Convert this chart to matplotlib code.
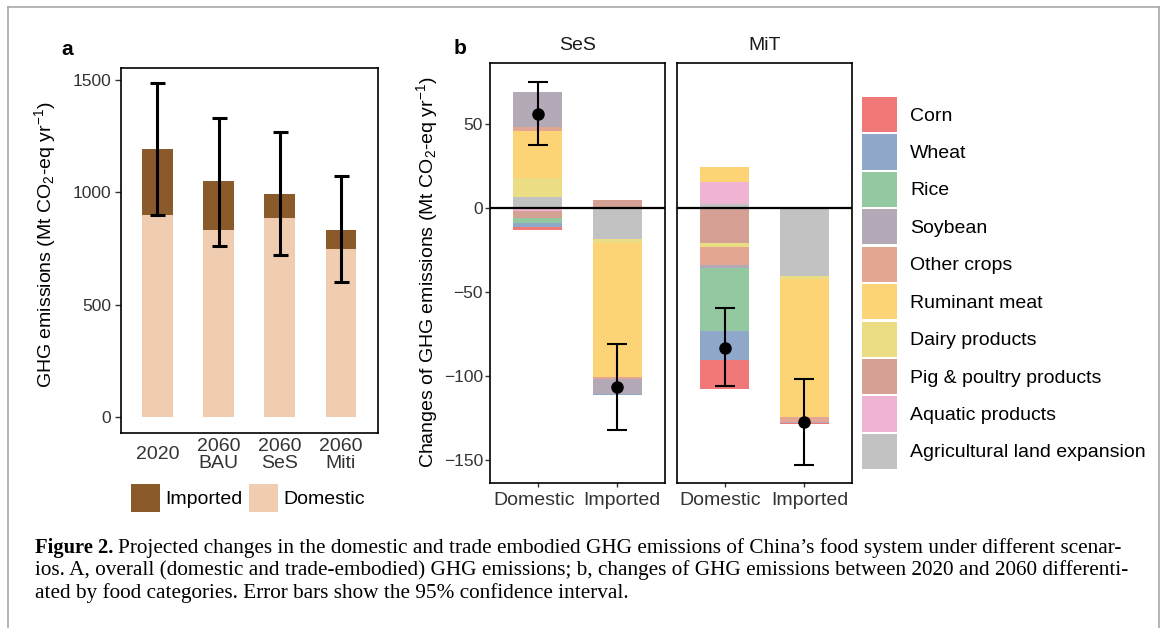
import numpy as np
import matplotlib
matplotlib.use("Agg")
import matplotlib.pyplot as plt
from matplotlib.patches import Patch
from matplotlib.lines import Line2D
from matplotlib.transforms import ScaledTranslation

plt.rcParams['font.family'] = ['Liberation Sans', 'DejaVu Sans']
plt.rcParams['mathtext.fontset'] = 'custom'
plt.rcParams['mathtext.rm'] = 'Liberation Sans'
plt.rcParams['mathtext.it'] = 'Liberation Sans:italic'
plt.rcParams['mathtext.bf'] = 'Liberation Sans:bold'

# panel a: overall emissions
scenarios = ['2020', '2060\nBAU', '2060\nSeS', '2060\nMiti']
domestic = np.array([901, 834, 888, 749])
imported = np.array([291, 215, 107, 85])
err_low = np.array([900, 760, 719, 600])
err_high = np.array([1486, 1333, 1271, 1071])

# panel b: changes by food category
categories = ['Corn', 'Wheat', 'Rice', 'Soybean', 'Other crops', 'Ruminant meat',
              'Dairy products', 'Pig & poultry products', 'Aquatic products',
              'Agricultural land expansion']
cat_colors = ['#F07878', '#8FA8C9', '#93C8A0', '#B4A9B7', '#E3A692', '#FDD475',
              '#EBDD83', '#D4A194', '#F0B4D3', '#C2C2C2']

ses_domestic = [-1.6, -2.4, -3.1, 20.8, 2.4, 27.8, 11.5, -4.2, -1.6, 6.5]
ses_imported = [0, -0.6, 0, -8.9, -1.2, -79.6, -2.3, 4.8, 0, -18.7]
mit_domestic = [-17.4, -17.1, -37.7, -1.4, -11.1, 8.9, -2.0, -21.0, 13.1, 2.4]
mit_imported = [-0.4, 0.8, 0, -0.5, -3.0, -82.1, -1.8, 0, 0, -40.5]

trade = ['Domestic', 'Imported']
ses_mean = np.array([55.8, -106.3])
ses_low = np.array([37.5, -132.3])
ses_high = np.array([75.0, -80.8])
mit_mean = np.array([-83.5, -127.2])
mit_low = np.array([-105.9, -152.8])
mit_high = np.array([-59.3, -101.8])

col_imp = '#8B5A2B'
col_dom = '#F0CDB1'
W, H = 1165, 628


def fig_box(x0, y0, x1, y1):
    return [x0 / W, 1 - y1 / H, (x1 - x0) / W, (y1 - y0) / H]


def stack_bars(ax, xpos, values, width=0.61):
    pos_base, neg_base = 0.0, 0.0
    for i in reversed(range(len(categories))):
        v = values[i]
        if v > 0:
            ax.bar(xpos, v, width, bottom=pos_base, color=cat_colors[i], lw=0)
            pos_base += v
        elif v < 0:
            ax.bar(xpos, v, width, bottom=neg_base, color=cat_colors[i], lw=0)
            neg_base += v


def style_frame(ax):
    for s in ax.spines.values():
        s.set_linewidth(1.2)
        s.set_color('black')


fig = plt.figure(figsize=(11.65, 6.28), dpi=100)

# ---- panel a ----
ax_a = fig.add_axes(fig_box(120.7, 67.7, 377.7, 432.7))
x = np.arange(1, len(scenarios) + 1)
total = domestic + imported
ax_a.bar(x, domestic, 0.5, color=col_dom, lw=0)
ax_a.bar(x, imported, 0.5, bottom=domestic, color=col_imp, lw=0)
ax_a.errorbar(x, total, yerr=[total - err_low, err_high - total], fmt='none',
              ecolor='black', elinewidth=2.2, capsize=5.4, capthick=2.2)
ax_a.set_xlim(0.4, 4.6)
ax_a.set_ylim(-71.5, 1556)
ax_a.set_yticks([0, 500, 1000, 1500])
ax_a.set_xticks(x)
ax_a.set_xticklabels(scenarios, linespacing=1.0)
ax_a.tick_params(axis='y', labelsize=12.5, length=4, width=1, pad=3, colors='#333333')
ax_a.tick_params(axis='x', labelsize=14, length=0, pad=16, colors='#333333')
for lbl in ax_a.get_xticklabels():
    lbl.set_va('center')
style_frame(ax_a)
fig.text(45 / W, 1 - 245 / H, 'GHG emissions (Mt CO$_2$-eq yr$^{-1}$)',
         rotation=90, ha='center', va='center', fontsize=14)
fig.text(66.7 / W, 1 - 55 / H, 'a', fontsize=15, fontweight='bold', ha='center')

fig.legend(handles=[Patch(facecolor=col_imp, lw=0, label='Imported'),
                    Patch(facecolor=col_dom, lw=0, label='Domestic')],
           loc='upper left', bbox_to_anchor=(131 / W, 1 - 484 / H), ncol=2, frameon=False,
           fontsize=14, handlelength=1.5, handleheight=1.85, handletextpad=0.25,
           columnspacing=0.35, borderpad=0, borderaxespad=0)

# ---- panel b ----
ax_s = fig.add_axes(fig_box(490, 62.7, 665, 482.7))
ax_m = fig.add_axes(fig_box(676.7, 62.7, 852.3, 482.7))
xb = np.arange(1, len(trade) + 1)
panels = [(ax_s, 'SeS', [ses_domestic, ses_imported], ses_mean, ses_low, ses_high),
          (ax_m, 'MiT', [mit_domestic, mit_imported], mit_mean, mit_low, mit_high)]
for ax, name, bars, mean, low, high in panels:
    for xi, vals in zip(xb, bars):
        stack_bars(ax, xi, vals)
    ax.axhline(0, color='black', lw=1.6, zorder=3)
    ax.errorbar(xb, mean, yerr=[mean - low, high - mean], fmt='o', color='black',
                ms=8, elinewidth=1.5, capsize=7.5, capthick=1.5, zorder=4)
    ax.set_xlim(0.4, 2.6)
    ax.set_ylim(-163.5, 86.5)
    ax.set_xticks(xb)
    ax.set_xticklabels(trade)
    ax.set_yticks([50, 0, -50, -100, -150])
    ax.tick_params(axis='x', labelsize=14, length=3, width=1, pad=4, colors='#333333')
    ax.tick_params(axis='y', labelsize=12.5, length=3.5, width=1, pad=1.5, colors='#333333')
    # labels sit a little apart from the bar centres in the original
    for lbl, dx in zip(ax.get_xticklabels(), [-4, 5]):
        lbl.set_transform(lbl.get_transform() + ScaledTranslation(dx / 100, 0, fig.dpi_scale_trans))
    ax.set_title(name, fontsize=14, pad=9.5, color='#1a1a1a')
    style_frame(ax)
ax_m.tick_params(axis='y', left=False, labelleft=False)

fig.text(427 / W, 1 - 272 / H, 'Changes of GHG emissions (Mt CO$_2$-eq yr$^{-1}$)',
         rotation=90, ha='center', va='center', fontsize=14)
fig.text(460 / W, 1 - 54 / H, 'b', fontsize=15, fontweight='bold', ha='center')

fig.legend(handles=[Patch(facecolor=c, lw=0, label=l) for c, l in zip(cat_colors, categories)],
           loc='upper left', bbox_to_anchor=(862 / W, 1 - 97 / H), frameon=False,
           fontsize=14, handlelength=1.8, handleheight=2.4, handletextpad=0.68,
           labelspacing=0.12, borderpad=0, borderaxespad=0)

# ---- caption ----
serif = ['Liberation Serif', 'DejaVu Serif']
cap_size = 15.3
head = fig.text(35 / W, 1 - 553 / H, 'Figure 2.', family=serif, fontweight='bold',
                fontsize=cap_size - 0.5)
fig.canvas.draw()
hx = head.get_window_extent().x1
fig.text((hx + 5) / W, 1 - 553 / H,
         'Projected changes in the domestic and trade embodied GHG emissions of '
         'China\u2019s food system under different scenar-', family=serif, fontsize=cap_size)
fig.text(35 / W, 1 - 575.5 / H,
         'ios. A, overall (domestic and trade-embodied) GHG emissions; b, changes of GHG '
         'emissions between 2020 and 2060 differenti-', family=serif, fontsize=cap_size)
fig.text(35 / W, 1 - 598 / H,
         'ated by food categories. Error bars show the 95% confidence interval.',
         family=serif, fontsize=cap_size)

# page border
bc = '#a8a8a8'
fig.add_artist(Line2D([8 / W, 8 / W], [0, 1 - 7 / H], color=bc, lw=1.2))
fig.add_artist(Line2D([8 / W, 1159 / W], [1 - 7 / H, 1 - 7 / H], color=bc, lw=1.2))
fig.add_artist(Line2D([1159 / W, 1159 / W], [0, 1 - 7 / H], color=bc, lw=1.2))

fig.savefig('out.png', dpi=100)
